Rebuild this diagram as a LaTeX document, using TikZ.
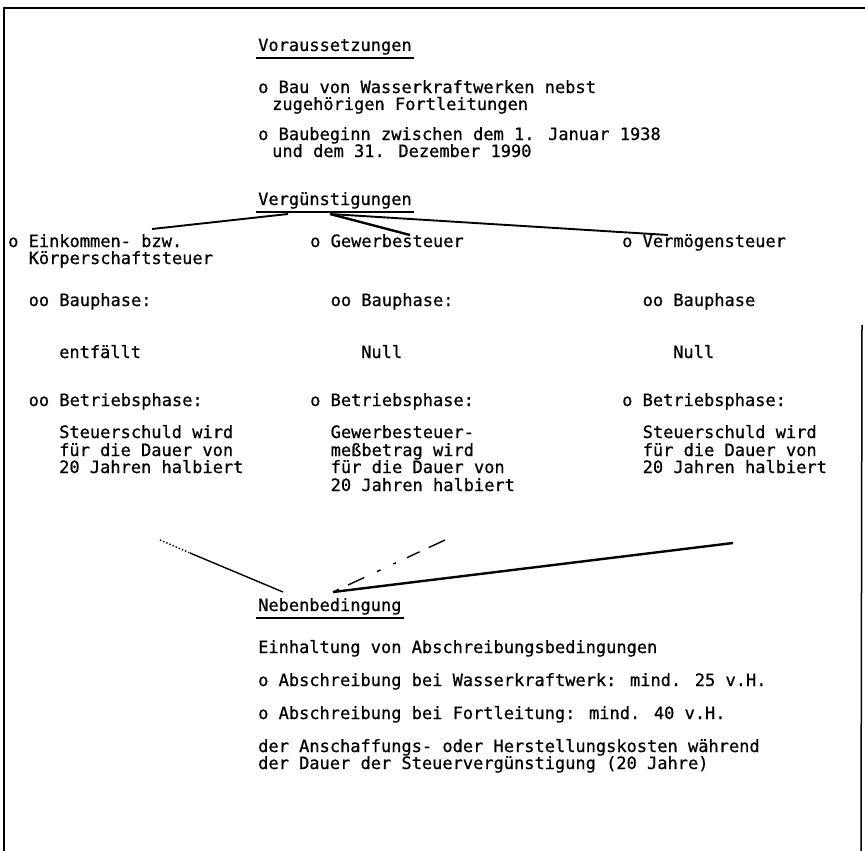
\documentclass[tikz,border=0pt]{standalone}
\usepackage{fontspec}
\newfontfamily\monofam[RawFeature={embolden=0.7}]{DejaVu Sans Mono}
\usetikzlibrary{calc}
\begin{document}
\begin{tikzpicture}[x=1pt,y=-1pt,
  txt/.style={anchor=base west,inner sep=0pt,font=\monofam\fontsize{17}{18}\selectfont},
  ul/.style={line width=1.6pt},
  conn/.style={line width=1.9pt},
  thinconn/.style={line width=1.4pt},
  frame/.style={line width=1.5pt}]
\useasboundingbox (0,0) rectangle (865,851);
\draw[frame] (4,851) -- (4,8) -- (865,8);
\draw[frame] (862,325) -- (861,851);

% Voraussetzungen
\node[txt] (vor) at (258,51) {Voraussetzungen};
\draw[ul] ($(vor.base west)+(-2,7)$) -- ($(vor.base east)+(2,7)$);
\node[txt] (v1a) at (258,93) {o Bau von Wasserkraftwerken nebst};
\node[txt] (v1b) at (272,110) {zugehörigen Fortleitungen};
\node[txt] (v2a) at (258,140) {o Baubeginn zwischen dem 1. Januar 1938};
\node[txt] (v2b) at (272,157) {und dem 31. Dezember 1990};

% Vergünstigungen
\node[txt] (verg) at (258,205) {Vergünstigungen};
\draw[ul] ($(verg.base west)+(-2,7)$) -- ($(verg.base east)+(2,7)$);

% left column
\node[txt] (ek) at (8,247) {o Einkommen- bzw.};
\node[txt] (ekb) at (28.5,264) {Körperschaftsteuer};
\node[txt] (ekbau) at (28.5,306) {oo Bauphase:};
\node[txt] (ekbauv) at (59,358) {entfällt};
\node[txt] (ekbet) at (28.5,406) {oo Betriebsphase:};
\node[txt] (ekbet1) at (59,438) {Steuerschuld wird};
\node[txt] (ekbet2) at (59,456) {für die Dauer von};
\node[txt] (ekbet3) at (59,473) {20 Jahren halbiert};

% middle column
\node[txt] (gw) at (310,247) {o Gewerbesteuer};
\node[txt] (gwbau) at (330.5,306) {oo Bauphase:};
\node[txt] (gwbauv) at (361,358) {Null};
\node[txt] (gwbet) at (310,406) {o Betriebsphase:};
\node[txt] (gwbet1) at (330.5,438) {Gewerbesteuer-};
\node[txt] (gwbet2) at (330.5,456) {meßbetrag wird};
\node[txt] (gwbet3) at (330.5,473) {für die Dauer von};
\node[txt] (gwbet4) at (330.5,491) {20 Jahren halbiert};

% right column
\node[txt] (vm) at (622,247) {o Vermögensteuer};
\node[txt] (vmbau) at (642.5,306) {oo Bauphase};
\node[txt] (vmbauv) at (673,358) {Null};
\node[txt] (vmbet) at (622,406) {o Betriebsphase:};
\node[txt] (vmbet1) at (642.5,438) {Steuerschuld wird};
\node[txt] (vmbet2) at (642.5,456) {für die Dauer von};
\node[txt] (vmbet3) at (642.5,473) {20 Jahren halbiert};

% Nebenbedingung
\node[txt] (neb) at (258,611) {Nebenbedingung};
\draw[ul] ($(neb.base west)+(-2,7)$) -- ($(neb.base east)+(2,7)$);
\node[txt] (n1) at (258,653) {Einhaltung von Abschreibungsbedingungen};
\node[txt] (n2) at (258,686) {o Abschreibung bei Wasserkraftwerk: mind. 25 v.H.};
\node[txt] (n3) at (258,719) {o Abschreibung bei Fortleitung: mind. 40 v.H.};
\node[txt] (n4) at (258,752) {der Anschaffungs- oder Herstellungskosten während};
\node[txt] (n5) at (258,769) {der Dauer der Steuervergünstigung (20 Jahre)};

% connectors from Vergünstigungen
\coordinate (vl) at ($(verg.base west)+(30,9)$);
\coordinate (vr) at ($(verg.base west)+(72,9)$);
\coordinate (ekt) at ($(ek.base west)+(144,-18)$);
\coordinate (gwt) at ($(gw.base west)+(100,-12)$);
\coordinate (vmt) at ($(vm.base west)+(46,-12)$);
\draw[conn] (vl) -- (ekt);
\draw[conn,line width=2.4pt] (vr) -- (gwt);
\draw[conn] (vr) -- (vmt);

% connectors to Nebenbedingung
\coordinate (nl) at ($(neb.base west)+(25,-19)$);
\coordinate (nr) at ($(neb.base west)+(75,-19)$);
\coordinate (lfree) at (160,540);
\coordinate (lmid) at (190,553);
\coordinate (mfree) at (445,540);
\coordinate (rfree) at (733,543);
\draw[thinconn,dotted] (lfree) -- (lmid);
\draw[thinconn] (lmid) -- (nl);
\draw[thinconn,dash pattern=on 18pt off 10pt on 14pt off 12pt on 3pt off 14pt on 4pt off 14pt] (mfree) -- (nr);
\draw[conn,line width=2.4pt] (rfree) -- (nr);
\end{tikzpicture}
\end{document}
